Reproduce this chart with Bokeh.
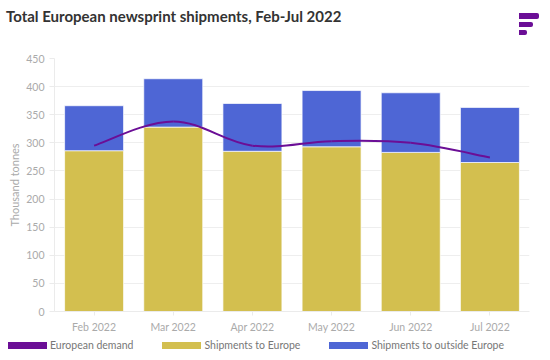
from bokeh.plotting import figure
from bokeh.layouts import column
from bokeh.models import Range1d, FixedTicker, ColumnDataSource, Div
from bokeh.embed import file_html
from bokeh.resources import INLINE

title_text = "Total European newsprint shipments, Feb-Jul 2022"
months = ["Feb 2022", "Mar 2022", "Apr 2022", "May 2022", "Jun 2022", "Jul 2022"]
to_europe = [286, 328, 285, 293, 283, 265]
outside_europe = [80, 86, 85, 100, 106, 98]
demand = [295, 338, 295, 303, 300, 274]
y_ticks = [0, 50, 100, 150, 200, 250, 300, 350, 400, 450]
series_names = ["European demand", "Shipments to Europe", "Shipments to outside Europe"]

FONT = "Lato"
YELLOW = "#D3BF4F"
BLUE = "#4E66D5"
PURPLE = "#6B0E96"
W = 534

# ---------- header: title + logo ----------
logo = "".join(
    f'<div style="position:absolute;left:519px;top:{tp}px;width:{w}px;height:{h}px;'
    f'background:{PURPLE};border-radius:0 2px 2px 0;"></div>'
    for tp, w, h in [(13, 20, 6), (22, 14, 5), (30, 8, 5)])
head = Div(text=f'<div style="position:relative;width:542px;height:50px;">'
                f'<div style="position:absolute;left:6px;top:7px;font-family:{FONT};'
                f'font-weight:bold;font-size:15px;line-height:18px;color:#333333;'
                f'white-space:nowrap;">{title_text}</div>{logo}</div>',
           width=542, height=50, margin=0)

# ---------- main chart ----------
xs = list(range(len(months)))
p = figure(frame_width=475, frame_height=253, output_backend="svg", toolbar_location=None,
           x_range=Range1d(-0.5, len(months) - 0.5), y_range=Range1d(0, 450),
           min_border_left=54, min_border_right=5, min_border_top=8, min_border_bottom=23)

src = ColumnDataSource(dict(x=xs, europe=to_europe, outside=outside_europe))
bars = p.vbar_stack(["europe", "outside"], x="x", width=0.745, source=src,
                    color=[YELLOW, BLUE], line_color="white", line_alpha=0.7, line_width=1)

# smooth demand curve through the data points (cardinal spline as bezier segments)
t = 0.18
x0, y0, x1, y1, cx0, cy0, cx1, cy1 = [], [], [], [], [], [], [], []
n = len(demand)
for i in range(n - 1):
    pm = (xs[max(i - 1, 0)], demand[max(i - 1, 0)])
    pa = (xs[i], demand[i])
    pb = (xs[i + 1], demand[i + 1])
    pn = (xs[min(i + 2, n - 1)], demand[min(i + 2, n - 1)])
    x0.append(pa[0]); y0.append(pa[1]); x1.append(pb[0]); y1.append(pb[1])
    cx0.append(pa[0] + t * (pb[0] - pm[0])); cy0.append(pa[1] + t * (pb[1] - pm[1]))
    cx1.append(pb[0] - t * (pn[0] - pa[0])); cy1.append(pb[1] - t * (pn[1] - pa[1]))
p.bezier(x0=x0, y0=y0, x1=x1, y1=y1, cx0=cx0, cy0=cy0, cx1=cx1, cy1=cy1,
         line_color=PURPLE, line_width=2)

p.xaxis.ticker = FixedTicker(ticks=xs)
p.xaxis.major_label_overrides = {i: m for i, m in enumerate(months)}
p.yaxis.ticker = FixedTicker(ticks=y_ticks)
p.yaxis.axis_label = "Thousand tonnes"
for ax in (p.xaxis[0], p.yaxis[0]):
    ax.major_label_text_font = FONT
    ax.major_label_text_font_size = "10.5px"
    ax.major_label_text_color = "#AAAAAA"
    ax.axis_line_color = "#EBEBEB"
    ax.major_tick_line_color = "#EBEBEB"
    ax.minor_tick_line_color = None
    ax.major_tick_out = 5
    ax.major_tick_in = 0
p.xaxis.major_tick_out = 4
p.yaxis.axis_label_text_font = FONT
p.yaxis.axis_label_text_font_size = "11px"
p.yaxis.axis_label_text_font_style = "normal"
p.yaxis.axis_label_text_color = "#AAAAAA"
p.yaxis.axis_label_standoff = 2
p.xgrid.grid_line_color = None
p.ygrid.grid_line_color = "#EEEEEE"
p.outline_line_color = None

# ---------- legend strip ----------
items = "".join(
    f'<div style="display:flex;align-items:center;margin-right:29px;">'
    f'<span style="display:inline-block;width:39px;height:7px;background:{c};'
    f'margin-right:3px;"></span>'
    f'<span style="font-family:{FONT};font-size:10.5px;color:#777777;white-space:nowrap;">{name}</span></div>'
    for name, c in zip(series_names, (PURPLE, YELLOW, BLUE)))
lg = Div(text=f'<div style="display:flex;align-items:center;height:20px;padding-left:8px;">{items}</div>',
         width=W, height=20, margin=0)

layout = column(head, p, lg, spacing=0)
open("out.html", "w").write(file_html(layout, INLINE))
